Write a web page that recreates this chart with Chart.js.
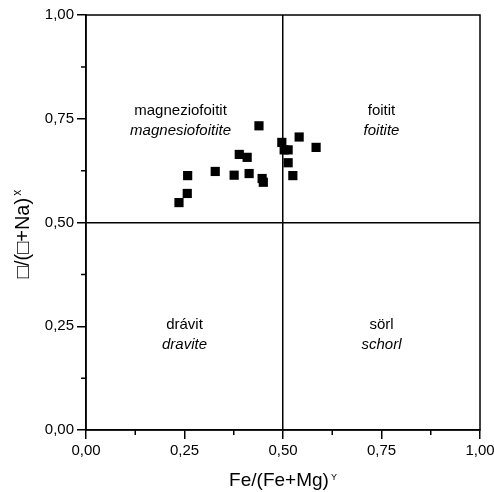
<!DOCTYPE html>
<html>
<head>
<meta charset="utf-8">
<script src="https://cdn.jsdelivr.net/npm/chart.js@4.4.1/dist/chart.umd.min.js"></script>
<style>
    html, body { margin: 0; padding: 0; background: #fff; }
</style>
</head>
<body>
<canvas id="grafico" width="494" height="492"></canvas>
<script>
// === Dados ===
const feMg  = [0.236, 0.257, 0.258, 0.328, 0.376, 0.389, 0.409, 0.414, 0.439, 0.447, 0.450, 0.497, 0.503, 0.513, 0.513, 0.525, 0.541, 0.584];
const vacNa = [0.548, 0.570, 0.613, 0.623, 0.614, 0.664, 0.657, 0.618, 0.733, 0.606, 0.597, 0.693, 0.675, 0.675, 0.644, 0.613, 0.706, 0.681];

// ticks dos eixos
const ticksMaiores = [0, 0.25, 0.5, 0.75, 1];
const rotulosTicks = ['0,00', '0,25', '0,50', '0,75', '1,00'];
const ticksMenores = [0.125, 0.375, 0.625, 0.875];

// rótulos dos campos (húngaro / inglês) e onde ficam, em unidades dos eixos
const campoHu = ['magneziofoitit', 'foitit', 'drávit', 'sörl'];
const campoEn = ['magnesiofoitite', 'foitite', 'dravite', 'schorl'];
const campoX  = [0.24, 0.75, 0.25, 0.75];
const campoY  = [0.759, 0.759, 0.243, 0.243];

const FONTE = '"Liberation Sans", Arial, sans-serif';
Chart.defaults.font.family = FONTE;
Chart.defaults.color = '#000';

function rotuloTick(v) {
    const i = ticksMaiores.findIndex(t => Math.abs(t - v) < 1e-6);
    return i >= 0 ? rotulosTicks[i] : '';
}

// === Moldura, ticks menores, títulos e rótulos ===
const molduraPlugin = {
    id: 'moldura',
    afterDraw(chart) {
        const { ctx, chartArea: a, scales: { x, y } } = chart;
        ctx.save();
        ctx.strokeStyle = '#000';
        ctx.lineWidth = 1.5;
        ctx.strokeRect(a.left, a.top, a.right - a.left, a.bottom - a.top);

        ctx.beginPath();
        ticksMenores.forEach(v => {
            const px = x.getPixelForValue(v);
            ctx.moveTo(px, a.bottom);
            ctx.lineTo(px, a.bottom + 5);
            const py = y.getPixelForValue(v);
            ctx.moveTo(a.left, py);
            ctx.lineTo(a.left - 5, py);
        });
        ctx.stroke();

        ctx.fillStyle = '#000';
        ctx.textBaseline = 'alphabetic';

        // título X
        ctx.font = '19px ' + FONTE;
        const xMain = 'Fe/(Fe+Mg)';
        const wm = ctx.measureText(xMain).width;
        ctx.font = '9px ' + FONTE;
        const ws = ctx.measureText('Y').width;
        let inicio = (a.left + a.right) / 2 - (wm + 2 + ws) / 2;
        ctx.textAlign = 'left';
        ctx.font = '19px ' + FONTE;
        ctx.fillText(xMain, inicio, a.bottom + 56);
        ctx.font = '9px ' + FONTE;
        ctx.fillText('Y', inicio + wm + 2, a.bottom + 49.5);

        // título Y
        ctx.save();
        ctx.translate(29, (a.top + a.bottom) / 2 + 11.5);
        ctx.rotate(-Math.PI / 2);
        ctx.font = '20px ' + FONTE;
        const yMain = '\u25A1/(\u25A1+Na)';
        const wy = ctx.measureText(yMain).width;
        ctx.font = '12px ' + FONTE;
        const wx = ctx.measureText('x').width;
        inicio = -(wy + 2 + wx) / 2;
        ctx.font = '20px ' + FONTE;
        ctx.fillText(yMain, inicio, 0);
        ctx.font = '12px ' + FONTE;
        ctx.fillText('x', inicio + wy + 2, -8);
        ctx.restore();

        // rótulos dos campos
        ctx.textAlign = 'center';
        campoHu.forEach((nome, i) => {
            const px = x.getPixelForValue(campoX[i]);
            const py = y.getPixelForValue(campoY[i]);
            ctx.font = '15px ' + FONTE;
            ctx.fillText(nome, px, py);
            ctx.font = 'italic 15px ' + FONTE;
            ctx.fillText(campoEn[i], px, py + 20);
        });
        ctx.restore();
    }
};

const pontos = feMg.map((v, i) => ({ x: v, y: vacNa[i] }));

const eixoComum = {
    type: 'linear',
    min: 0,
    max: 1,
    border: { display: true, color: '#000', width: 1.5 },
    grid: {
        drawOnChartArea: true,
        color: c => (c.tick && Math.abs(c.tick.value - 0.5) < 1e-6) ? '#000' : 'rgba(0,0,0,0)',
        lineWidth: 1.5,
        tickLength: 9,
        tickColor: '#000',
        tickWidth: 1.5
    },
    ticks: {
        stepSize: 0.25,
        autoSkip: false,
        maxRotation: 0,
        padding: 3,
        color: '#000',
        font: { size: 15 },
        callback: rotuloTick
    }
};

new Chart(document.getElementById('grafico'), {
    type: 'scatter',
    data: {
        datasets: [{
            data: pontos,
            pointStyle: 'rect',
            radius: 6.5,
            backgroundColor: '#000',
            borderColor: '#000',
            borderWidth: 0
        }]
    },
    options: {
        responsive: false,
        animation: false,
        layout: { padding: { top: 15, right: 14, left: 0, bottom: 0 } },
        plugins: { legend: { display: false }, tooltip: { enabled: false } },
        scales: {
            x: Object.assign({}, eixoComum, {
                afterFit: s => { s.height = 62; s.paddingLeft = 0; s.paddingRight = 0; }
            }),
            y: Object.assign({}, eixoComum, {
                afterFit: s => { s.width = 86; s.paddingTop = 0; s.paddingBottom = 0; }
            })
        }
    },
    plugins: [molduraPlugin]
});
</script>
</body>
</html>
